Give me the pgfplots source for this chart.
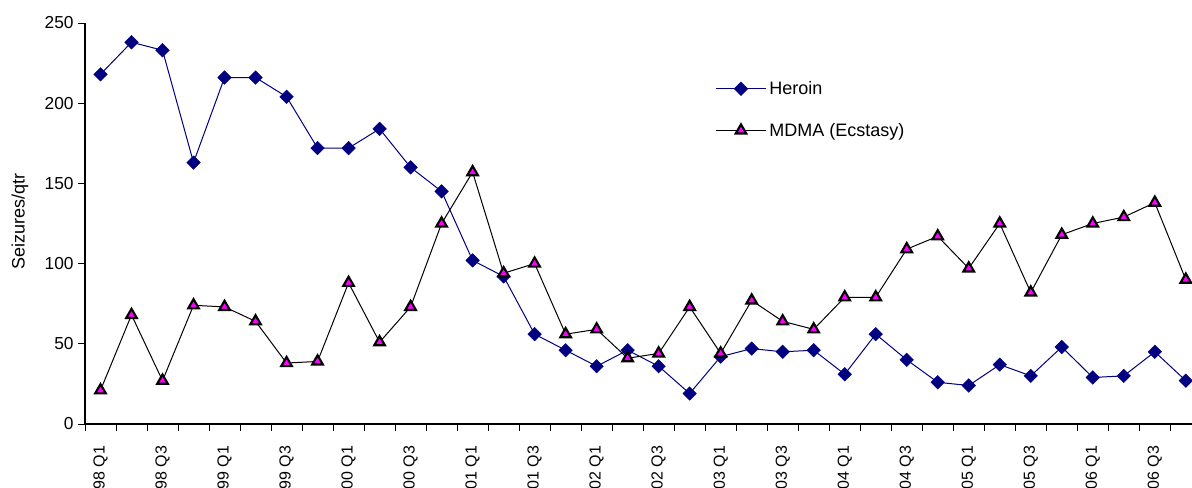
\documentclass[border=0pt]{standalone}
\usepackage{pgfplots}
\pgfplotsset{compat=1.18}
\usepackage{fontspec}
\setmainfont{Liberation Sans}
\definecolor{heroin}{HTML}{000080}
\definecolor{mdma}{HTML}{FF00FF}
\begin{document}
\begin{tikzpicture}[x=1pt,y=1pt]
\begin{axis}[
  name=ax,
  scale only axis,
  width=830.25pt, height=300.75pt,
  xmin=-0.5, xmax=35.2,
  ymin=0, ymax=250,
  axis lines*=left,
  axis line style={black, line width=0.9pt},
  /pgf/number format/assume math mode=true,
  ytick={0,50,100,150,200,250},
  xtick={0,2,...,34},
  xticklabels={98 Q1,98 Q3,99 Q1,99 Q3,00 Q1,00 Q3,01 Q1,01 Q3,02 Q1,02 Q3,03 Q1,03 Q3,04 Q1,04 Q3,05 Q1,05 Q3,06 Q1,06 Q3},
  minor xtick={-0.5,0.5,...,35.5},
  tick align=outside,
  major tick length=5pt,
  minor tick length=5pt,
  every tick/.style={black, line width=0.7pt},
  every major x tick/.append style={draw=none},
  xticklabel style={rotate=90, anchor=east, font=\fontsize{12}{13}\selectfont, xshift=-8pt},
  yticklabel style={font=\fontsize{13}{14}\selectfont},
  ylabel={Seizures/qtr},
  ylabel style={font=\fontsize{13.5}{14}\selectfont, at={(axis description cs:-0.0587,0.505)}, anchor=center, rotate=0},
  legend style={draw=none, fill=none, at={(0.569,0.862)}, anchor=north west, font=\fontsize{13.5}{14}\selectfont, row sep=16pt, inner sep=0pt},
  legend cell align=left,
  legend image code/.code={%
    \draw[mark repeat=2,mark phase=2,#1] plot coordinates {(0pt,0pt) (19pt,0pt) (38pt,0pt)};},
  clip=false,
]
\addplot[heroin, line width=0.75pt, mark=square*, mark size=3.6pt, mark options={rotate=45, fill=heroin, draw=heroin, line width=0.3pt}] coordinates {
(0,218) (1,238) (2,233) (3,163) (4,216) (5,216) (6,204) (7,172) (8,172) (9,184)
(10,160) (11,145) (12,102) (13,92) (14,56) (15,46) (16,36) (17,46) (18,36) (19,19)
(20,42) (21,47) (22,45) (23,46) (24,31) (25,56) (26,40) (27,26) (28,24) (29,37)
(30,30) (31,48) (32,29) (33,30) (34,45) (35,27)
};
\addlegendentry{Heroin}
\addplot[black, line width=0.75pt, mark=triangle*, mark size=4.6pt, mark options={fill=mdma, draw=black, line width=1.6pt}] coordinates {
(0,21) (1,68) (2,27) (3,74) (4,73) (5,64) (6,38) (7,39) (8,88) (9,51)
(10,73) (11,125) (12,157) (13,94) (14,100) (15,56) (16,59) (17,41) (18,44) (19,73)
(20,44) (21,77) (22,64) (23,59) (24,79) (25,79) (26,109) (27,117) (28,97) (29,125)
(30,82) (31,118) (32,125) (33,129) (34,138) (35,90)
};
\addlegendentry{MDMA (Ecstasy)}
\end{axis}
\pgfresetboundingbox
\path ([xshift=-63.75pt, yshift=-48pt]ax.south west) rectangle ([yshift=17.25pt]ax.north east);
\end{tikzpicture}
\end{document}
